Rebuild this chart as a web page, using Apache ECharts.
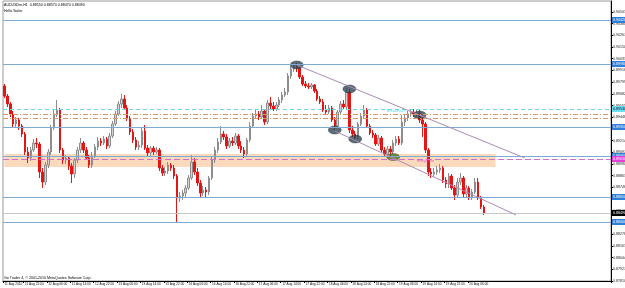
<!DOCTYPE html>
<html><head><meta charset="utf-8">
<script src="https://cdn.jsdelivr.net/npm/echarts@6.0.0/dist/echarts.min.js"></script>
<style>html,body{margin:0;padding:0;background:#fff}#c{width:625px;height:288px}</style>
</head><body><div id="c"></div>
<script>
// ---- Data (AUDUSDm, H1, 11 Aug 2010 15:00 onward) ----
const opens=[0.8976,0.8966,0.8958,0.8948,0.8938,0.8942,0.8936,0.8928,0.8910,0.8904,0.8912,0.8919,0.8918,0.8890,0.8880,0.8897,0.8910,0.8934,0.8948,0.8952,
0.8912,0.8902,0.8904,0.8896,0.8888,0.8902,0.8912,0.8919,0.8912,0.8904,0.8897,0.8906,0.8915,0.8921,0.8919,0.8923,0.8916,0.8926,0.8938,0.8948,
0.8958,0.8963,0.8954,0.8944,0.8930,0.8922,0.8915,0.8917,0.8931,0.8914,0.8909,0.8914,0.8910,0.8912,0.8894,0.8889,0.8891,0.8897,0.8894,0.8886,
0.8864,0.8866,0.8869,0.8874,0.8884,0.8900,0.8890,0.8879,0.8869,0.8872,0.8870,0.8884,0.8902,0.8912,0.8920,0.8928,0.8925,0.8916,0.8921,0.8919,
0.8926,0.8916,0.8912,0.8908,0.8922,0.8936,0.8946,0.8948,0.8945,0.8951,0.8940,0.8959,0.8956,0.8953,0.8957,0.8962,0.8967,0.8970,0.8986,0.8993,
0.8996,0.8994,0.8985,0.8978,0.8976,0.8975,0.8977,0.8971,0.8963,0.8960,0.8952,0.8950,0.8954,0.8942,0.8936,0.8950,0.8958,0.8955,0.8970,0.8932,
0.8928,0.8925,0.8938,0.8946,0.8952,0.8936,0.8929,0.8927,0.8918,0.8924,0.8912,0.8908,0.8913,0.8910,0.8919,0.8923,0.8919,0.8940,0.8944,0.8948,
0.8950,0.8948,0.8949,0.8942,0.8938,0.8912,0.8890,0.8888,0.8890,0.8892,0.8894,0.8882,0.8878,0.8886,0.8874,0.8867,0.8880,0.8884,0.8868,0.8874,
0.8864,0.8870,0.8880,0.8864,0.8855];
const closes=[0.8966,0.8958,0.8948,0.8938,0.8942,0.8936,0.8928,0.8910,0.8904,0.8912,0.8919,0.8918,0.8890,0.8880,0.8897,0.8910,0.8934,0.8948,0.8952,0.8912,
0.8902,0.8904,0.8896,0.8888,0.8902,0.8912,0.8919,0.8912,0.8904,0.8897,0.8906,0.8915,0.8921,0.8919,0.8923,0.8916,0.8926,0.8938,0.8948,0.8958,
0.8963,0.8954,0.8944,0.8930,0.8922,0.8915,0.8917,0.8931,0.8914,0.8909,0.8914,0.8910,0.8912,0.8894,0.8889,0.8891,0.8897,0.8894,0.8886,0.8864,
0.8866,0.8869,0.8874,0.8884,0.8900,0.8890,0.8879,0.8869,0.8872,0.8870,0.8884,0.8902,0.8912,0.8920,0.8928,0.8925,0.8916,0.8921,0.8919,0.8926,
0.8916,0.8912,0.8908,0.8922,0.8936,0.8946,0.8948,0.8945,0.8951,0.8940,0.8959,0.8956,0.8953,0.8957,0.8962,0.8967,0.8970,0.8986,0.8993,0.8996,
0.8994,0.8985,0.8978,0.8976,0.8975,0.8977,0.8971,0.8963,0.8960,0.8952,0.8950,0.8954,0.8942,0.8936,0.8950,0.8958,0.8955,0.8970,0.8932,0.8928,
0.8925,0.8938,0.8946,0.8952,0.8936,0.8929,0.8927,0.8918,0.8924,0.8912,0.8908,0.8913,0.8910,0.8919,0.8923,0.8919,0.8940,0.8944,0.8948,0.8950,
0.8948,0.8949,0.8942,0.8938,0.8912,0.8890,0.8888,0.8890,0.8892,0.8894,0.8882,0.8878,0.8886,0.8874,0.8867,0.8880,0.8884,0.8868,0.8874,0.8864,
0.8870,0.8880,0.8864,0.8855,0.8849];
const highs=[0.8978,0.8968,0.8960,0.8951,0.8945,0.8944,0.8938,0.8930,0.8915,0.8915,0.8923,0.8924,0.8920,0.8894,0.8900,0.8913,0.8937,0.8952,0.8962,0.8954,
0.8914,0.8907,0.8906,0.8899,0.8904,0.8915,0.8924,0.8921,0.8915,0.8907,0.8910,0.8918,0.8925,0.8924,0.8926,0.8925,0.8929,0.8941,0.8951,0.8961,
0.8968,0.8967,0.8957,0.8946,0.8933,0.8925,0.8921,0.8934,0.8937,0.8917,0.8916,0.8916,0.8915,0.8914,0.8897,0.8895,0.8900,0.8899,0.8897,0.8888,
0.8870,0.8872,0.8877,0.8887,0.8907,0.8904,0.8894,0.8882,0.8876,0.8875,0.8886,0.8905,0.8915,0.8924,0.8936,0.8931,0.8928,0.8924,0.8925,0.8929,
0.8928,0.8921,0.8915,0.8924,0.8940,0.8949,0.8952,0.8951,0.8957,0.8953,0.8962,0.8965,0.8960,0.8960,0.8965,0.8970,0.8974,0.8989,0.8996,0.8999,
0.8999,0.8996,0.8987,0.8981,0.8979,0.8979,0.8978,0.8973,0.8966,0.8963,0.8957,0.8957,0.8956,0.8945,0.8952,0.8961,0.8962,0.8974,0.8973,0.8936,
0.8931,0.8940,0.8949,0.8957,0.8954,0.8938,0.8932,0.8929,0.8927,0.8926,0.8915,0.8916,0.8916,0.8922,0.8926,0.8926,0.8947,0.8948,0.8951,0.8952,
0.8953,0.8952,0.8952,0.8945,0.8940,0.8914,0.8894,0.8894,0.8896,0.8898,0.8896,0.8885,0.8889,0.8888,0.8877,0.8884,0.8889,0.8886,0.8877,0.8876,
0.8873,0.8884,0.8884,0.8866,0.8857];
const lows=[0.8964,0.8955,0.8945,0.8934,0.8935,0.8932,0.8925,0.8907,0.8899,0.8901,0.8910,0.8914,0.8884,0.8874,0.8877,0.8894,0.8907,0.8932,0.8945,0.8909,
0.8898,0.8898,0.8892,0.8879,0.8884,0.8899,0.8909,0.8909,0.8902,0.8894,0.8894,0.8904,0.8912,0.8916,0.8917,0.8913,0.8914,0.8924,0.8936,0.8946,
0.8954,0.8952,0.8941,0.8927,0.8919,0.8912,0.8912,0.8914,0.8912,0.8906,0.8906,0.8907,0.8908,0.8891,0.8886,0.8886,0.8888,0.8891,0.8883,0.8840,
0.8860,0.8862,0.8865,0.8872,0.8882,0.8887,0.8876,0.8864,0.8866,0.8865,0.8867,0.8882,0.8899,0.8909,0.8918,0.8922,0.8913,0.8914,0.8916,0.8917,
0.8913,0.8909,0.8904,0.8906,0.8920,0.8934,0.8943,0.8942,0.8943,0.8937,0.8938,0.8953,0.8951,0.8951,0.8955,0.8959,0.8965,0.8967,0.8983,0.8990,
0.8990,0.8983,0.8976,0.8974,0.8973,0.8973,0.8969,0.8961,0.8958,0.8950,0.8948,0.8948,0.8940,0.8932,0.8934,0.8948,0.8953,0.8953,0.8929,0.8925,
0.8922,0.8923,0.8936,0.8944,0.8934,0.8927,0.8924,0.8916,0.8916,0.8910,0.8905,0.8905,0.8906,0.8908,0.8916,0.8917,0.8917,0.8936,0.8941,0.8945,
0.8945,0.8945,0.8939,0.8925,0.8909,0.8886,0.8884,0.8885,0.8887,0.8889,0.8879,0.8874,0.8874,0.8872,0.8862,0.8865,0.8877,0.8865,0.8865,0.8862,
0.8862,0.8868,0.8862,0.8853,0.8847];
const tickLabels=["11 Aug 2010","11 Aug 22:00","12 Aug 06:00","12 Aug 14:00","12 Aug 22:00","13 Aug 06:00","13 Aug 14:00","13 Aug 22:00","16 Aug 06:00","16 Aug 14:00","16 Aug 22:00","17 Aug 06:00","17 Aug 14:00","17 Aug 22:00","18 Aug 06:00","18 Aug 14:00","18 Aug 22:00","19 Aug 06:00","19 Aug 14:00","19 Aug 22:00","20 Aug 06:00"];
const tickBars=[0,7,15,23,31,39,47,55,63,71,79,87,95,103,111,119,127,135,143,151,159];
const levelLines=[0.9042,0.8998,0.8935,0.8906,0.8865,0.8840];
const orderLines=[0.8953,0.8948,0.8944];
const orderNames=["#80133 sell","#80124 sell","#79976 sell"];
const stopLine=0.8865, stopName="#770591 sell";
const entryLine=0.8903;
const zone=[0.8908,0.8895];
const upperTrend=[[100,0.8997],[178,0.8904]];
const lowerTrend=[[113,0.8931],[175,0.8847]];
const swingHighs=[[100,0.8997],[118,0.8973],[142,0.8947]];
const swingLows=[[113,0.8932],[120,0.8923]];
const entrySwing=[[133,0.8905]];
const notes=[{text:'BreakPoint',at:[134,0.8951],color:'#30d0e0'},{text:'EntryPoint',at:[144,0.8901],color:'#e040c8'}];
const slots=208;

const FONT='Liberation Sans';
const n=closes.length;
const last=n-1;
const cats=Array.from({length:slots},(_,i)=>String(i));
const ohlc=opens.map((o,i)=>[o,closes[i],lows[i],highs[i]]);
const f5=v=>v.toFixed(5);

const chart=echarts.init(document.getElementById('c'),null,{renderer:'canvas'});
const boxLabel=(bg,fg)=>({show:true,position:'end',distance:1,formatter:p=>f5(p.value),backgroundColor:bg,color:fg,fontSize:3.6,fontFamily:FONT,padding:[1,1,1,1]});
const hl=[];
levelLines.forEach(v=>hl.push({yAxis:v,lineStyle:{color:'#7faad2',width:1,type:'solid'},label:boxLabel('#2f7fd8','#fff')}));
hl.push({yAxis:orderLines[0],lineStyle:{color:'#6fd8e8',width:1,type:[4,3]},label:boxLabel('#6fe0ee','#003')});
hl.push({yAxis:orderLines[1],lineStyle:{color:'#d8956a',width:1,type:[5,2,1,2]},label:{show:false}});
hl.push({yAxis:orderLines[2],lineStyle:{color:'#d8956a',width:1,type:[5,2,1,2]},label:{show:false}});
orderLines.forEach((v,k)=>hl.push({yAxis:v,lineStyle:{opacity:0},label:{show:true,position:'insideStartTop',distance:0,formatter:orderNames[k],fontSize:3.8,fontFamily:FONT,color:'#000'}}));
hl.push({yAxis:stopLine,lineStyle:{opacity:0},label:{show:true,position:'insideStartTop',distance:0,formatter:stopName,fontSize:3.8,fontFamily:FONT,color:'#000'}});
hl.push({yAxis:entryLine,lineStyle:{color:'#d070c8',width:1,type:[6,3]},label:boxLabel('#e040d8','#fff')});
hl.push({yAxis:closes[last],lineStyle:{color:'#c8c8c8',width:1,type:'solid'},label:boxLabel('#000','#fff')});
const trends=[upperTrend,lowerTrend].map(t=>[{coord:t[0],lineStyle:{color:'#a98bb5',width:1,type:'solid'},label:{show:false}},{coord:t[1]}]);

const option={
  animation:false,
  backgroundColor:'#fff',
  grid:{left:3,right:14,top:1,bottom:7,containLabel:false,outerBoundsMode:'none',show:true,borderColor:'#9a9a9a',borderWidth:1,backgroundColor:'#fff'},
  xAxis:{type:'category',data:cats,boundaryGap:true,
    axisLine:{show:true,lineStyle:{color:'#000',width:1}},
    axisTick:{show:true,length:2,interval:(i)=>tickBars.includes(i),lineStyle:{color:'#000'}},
    axisLabel:{show:true,hideOverlap:false,showMinLabel:true,interval:(i)=>tickBars.includes(i),formatter:(v,i)=>{const k=tickBars.indexOf(Number(v));return k>=0?tickLabels[k]:'';},
      fontSize:3.2,fontFamily:FONT,color:'#111',align:'left',margin:1.5},
    splitLine:{show:false}},
  yAxis:{type:'value',position:'right',min:0.8781,max:0.9061,interval:0.00117,scale:true,
    axisLine:{show:true,lineStyle:{color:'#000',width:1}},
    axisTick:{show:true,length:2,lineStyle:{color:'#000'}},
    axisLabel:{show:true,hideOverlap:false,formatter:v=>f5(v),fontSize:3.6,fontFamily:FONT,color:'#222',margin:2,showMaxLabel:false},
    splitLine:{show:false}},
  graphic:[
    {type:'text',left:4,top:3,z:50,style:{text:'AUDUSDm,H1  '+[opens[last],highs[last],lows[last],closes[last]].map(f5).join(' '),fontSize:3.6,fontFamily:FONT,fill:'#000'}},
    {type:'text',left:4,top:8.5,z:50,style:{text:'Hello Sailor',fontSize:3.6,fontFamily:FONT,fill:'#000'}},
    {type:'text',left:4,top:276,z:50,style:{text:'Go Trader 4, \u00a9 2001-2010 MetaQuotes Software Corp.',fontSize:3.6,fontFamily:FONT,fill:'#000'}}
  ],
  series:[
    {type:'scatter',data:[],z:1,silent:true,
      markArea:{silent:true,itemStyle:{color:'#fbd9bd',opacity:1},data:[[{xAxis:'0',yAxis:zone[0]},{xAxis:'168',yAxis:zone[1]}]]}},
    {type:'scatter',data:[],z:2,silent:true,
      markLine:{silent:true,symbol:['none','none'],animation:false,precision:5,data:hl.concat(trends)}},
    {type:'candlestick',z:3,data:ohlc,barWidth:2,
      itemStyle:{color:'#d4d4d4',color0:'#e41515',borderColor:'#8e8e8e',borderColor0:'#e41515',borderWidth:1}},
    {type:'scatter',z:4,data:swingHighs.concat(swingLows),symbol:'circle',symbolSize:[13,8],
      itemStyle:{color:'#2f4753',borderColor:'#1c2e36',borderWidth:0.5}},
    {type:'scatter',z:4,data:entrySwing,symbol:'circle',symbolSize:[13,7],
      itemStyle:{color:'#4e7420',borderColor:'#2c4410',borderWidth:0.5}},
    {type:'scatter',z:5,symbolSize:0,itemStyle:{color:'transparent'},
      data:notes.map(d=>({value:d.at,name:d.text,label:{color:d.color}})),
      label:{show:true,position:'inside',formatter:p=>p.name,fontSize:3.8,fontFamily:FONT}}
  ]
};
chart.setOption(option);
</script></body></html>
